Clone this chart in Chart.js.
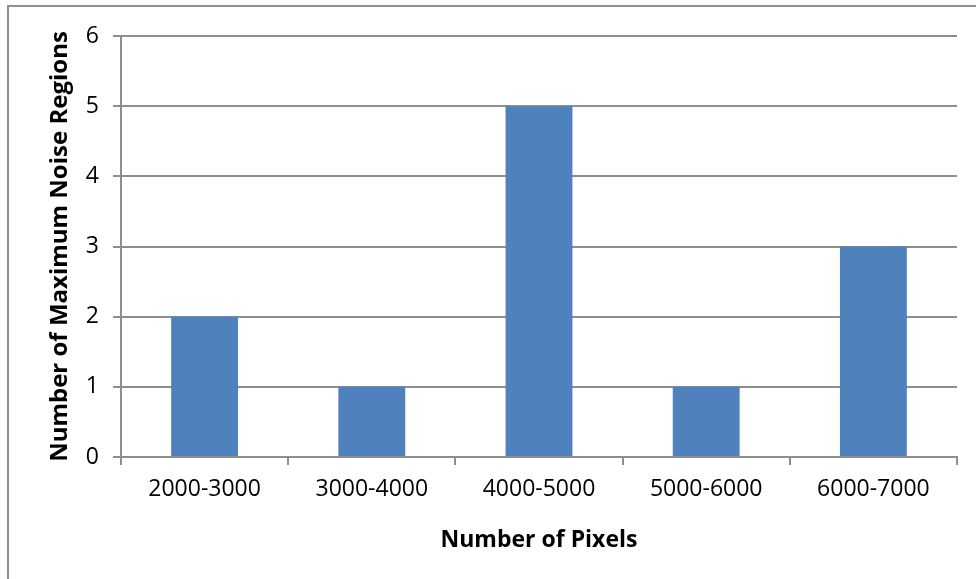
<!DOCTYPE html>
<html>
<head>
<meta charset="utf-8">
<script src="https://cdn.jsdelivr.net/npm/chart.js@4/dist/chart.umd.min.js"></script>
<style>
  html, body { margin: 0; padding: 0; background: #fff; }
  #frame {
    position: absolute; left: 7px; top: 5px; width: 1000px; height: 600px;
    border-left: 2px solid #8e8e8e; border-top: 2px solid #8e8e8e;
  }
  #wrap { position: absolute; left: 0; top: 0; width: 976px; height: 579px; }
</style>
</head>
<body>
<div id="frame"></div>
<div id="wrap"><canvas id="noiseChart"></canvas></div>
<script>
const categories = ['2000-3000', '3000-4000', '4000-5000', '5000-6000', '6000-7000'];
const regionCounts = [2, 1, 5, 1, 3];
const yTicks = [0, 1, 2, 3, 4, 5, 6];

const gridGray = '#8e8e8e';
const fontFamily = "'Open Sans', 'Liberation Sans', sans-serif";

const ctx = document.getElementById('noiseChart').getContext('2d');

const chartInstance = new Chart(ctx, {
  type: 'bar',
  data: {
    labels: categories,
    datasets: [{
      label: 'Number of Maximum Noise Regions',
      data: regionCounts,
      backgroundColor: '#4f81bd',
      borderWidth: 0,
      barPercentage: 0.4,
      categoryPercentage: 1
    }]
  },
  options: {
    responsive: true,
    maintainAspectRatio: false,
    animation: false,
    layout: { padding: { top: 36, right: 19, bottom: 0, left: 0 } },
    plugins: {
      legend: { display: false },
      tooltip: { enabled: false }
    },
    scales: {
      x: {
        offset: true,
        grid: {
          display: true,
          drawOnChartArea: false,
          offset: true,
          tickLength: 8,
          color: gridGray,
          lineWidth: 2
        },
        border: { display: true, color: gridGray, width: 2 },
        ticks: {
          color: '#000',
          padding: 11,
          maxRotation: 0,
          font: { family: fontFamily, size: 23 }
        },
        title: {
          display: true,
          text: 'Number of Pixels',
          color: '#000',
          padding: { top: 0, bottom: 25 },
          font: { family: fontFamily, size: 23, weight: 'bold' }
        },
        afterFit: (scale) => { scale.height = 122; }
      },
      y: {
        min: 0,
        max: 6,
        afterBuildTicks: (scale) => { scale.ticks = yTicks.map(v => ({ value: v })); },
        grid: {
          color: gridGray,
          lineWidth: 2,
          tickLength: 8
        },
        border: { display: true, color: gridGray, width: 2 },
        ticks: {
          color: '#000',
          padding: 14,
          font: { family: fontFamily, size: 23 }
        },
        title: {
          display: true,
          text: 'Number of Maximum Noise Regions',
          color: '#000',
          padding: { top: 46, bottom: 0 },
          font: { family: fontFamily, size: 24, weight: 'bold' }
        },
        afterFit: (scale) => { scale.width = 121; }
      }
    }
  }
});
</script>
</body>
</html>
